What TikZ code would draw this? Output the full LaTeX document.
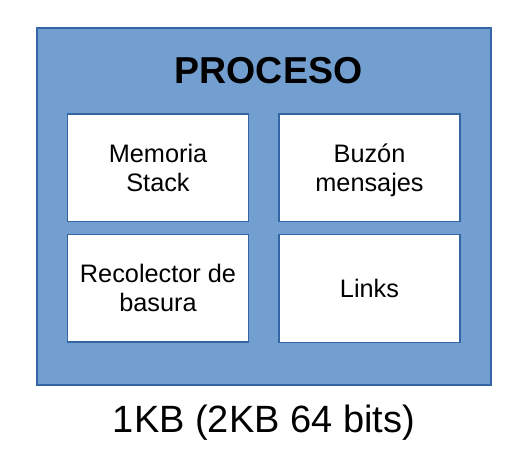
\documentclass[tikz,border=0pt]{standalone}
\usepackage{fontspec}
\setmainfont{Liberation Sans}
\definecolor{procfill}{HTML}{729FCF}
\definecolor{procline}{HTML}{3465A4}
\tikzset{
    caja/.style={draw=procline,line width=1.2pt,fill=white,minimum width=181pt,minimum height=107.5pt,inner sep=0pt,text depth=0pt,align=center,font=\fontsize{25.3}{29}\selectfont},
}
\begin{document}
\begin{tikzpicture}[x=1pt,y=1pt]
        \useasboundingbox (0,0) rectangle (529,465);

        \node[draw=procline,line width=1.5pt,fill=procfill,minimum width=454pt,minimum height=357pt,inner sep=0pt] (proceso) at (264,258.5) {};
        \node[anchor=base,font=\fontsize{37.5}{40}\selectfont\bfseries] (titulo) at (268.5,381.7) {PROCESO};

        \node[caja] (memoria) at (158,297.25) {Memoria\\Stack};
        \node[caja] (buzon) at (369.5,297.25) {Buzón\\mensajes};
        \node[caja] (recolector) at (158,176.75) {Recolector de\\basura};
        \node[caja] (links) at (369.5,176.5) {Links};

        \node[anchor=base,font=\fontsize{38}{40}\selectfont] (tamano) at (264,32) {1KB (2KB 64 bits)};

    \end{tikzpicture}
\end{document}
